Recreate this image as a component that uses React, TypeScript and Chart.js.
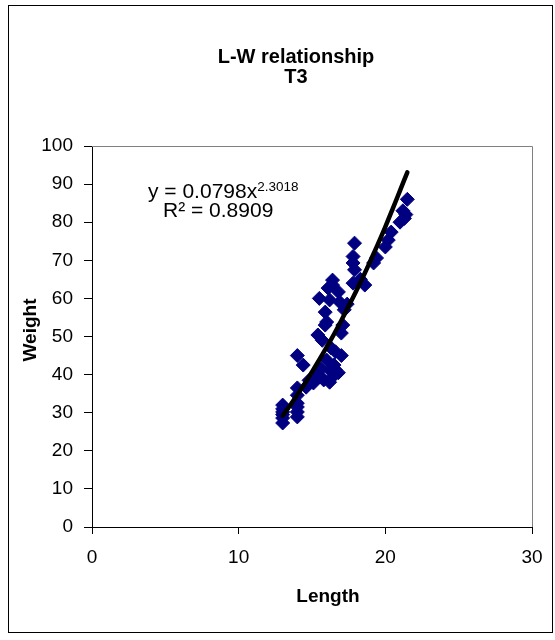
import React, { useEffect, useRef } from "react";
import { Chart, registerables } from "chart.js";

Chart.register(...registerables);

const titleLines = ["L-W relationship", "T3"];
const xAxisTitle = "Length";
const yAxisTitle = "Weight";
const equationMain = "y = 0.0798x";
const equationExp = "2.3018";
const rSquaredText = "R² = 0.8909";

const xTicks = [0, 10, 20, 30];
const yTicks = [0, 10, 20, 30, 40, 50, 60, 70, 80, 90, 100];

const lengths = [
  13, 13, 13, 13, 13, 13,
  14, 14, 14, 14, 14, 14, 14,
  14.4, 14.6, 15.1, 15.3, 15.8, 16.2, 16.2, 16.4, 16.6, 16, 17,
  16.6, 16.3, 15.7, 15.4, 17, 17.1, 15.9, 16, 15.9,
  15.5, 16.2, 16.9, 16.8, 16.1, 16.4, 16.4, 17.8, 17.2, 17.4,
  17.9, 17.8, 17.8, 17.9, 18.3, 18.6,
  19.2, 19.4, 20, 20.2, 20.4, 21, 21.3, 21.2, 21.5,
  14.8, 15.5, 16.5, 15.6, 16.8, 21.4,
];
const weights = [
  27.3, 28.6, 29.5, 30.2, 31, 32,
  28.9, 30.2, 31.5, 32.5, 34.6, 36.5, 45,
  42.5, 36.7, 37.8, 40.4, 38.6, 38, 41.2, 39.4, 41.2, 43.8, 45,
  46, 47, 49, 50.4, 50.9, 53, 53, 53.8, 56.4,
  60, 59.6, 59, 61.7, 62.7, 63.5, 64.8, 64, 57, 58.5,
  74.5, 71, 69.3, 67.5, 65, 63.5,
  69.3, 70.6, 73.5, 75.3, 77.4, 80, 81, 83, 86,
  38.5, 39.5, 42.5, 41.5, 40.5, 82,
];

// trendline values
const trendX = [13, 13.5, 14, 14.5, 15, 15.5, 16, 16.5, 17, 17.5, 18, 18.5, 19, 19.5, 20, 20.5, 21, 21.5];
const trendY = [29.2, 31.9, 34.7, 37.6, 40.7, 43.9, 47.2, 50.6, 54.2, 58.0, 61.8, 65.8, 70.0, 74.3, 78.8, 83.5, 88.3, 93.1];

const FONT = "'Liberation Sans', Arial, sans-serif";

const decorPlugin = {
  id: "decor",
  afterDraw(chart: any) {
    const ctx = chart.ctx as CanvasRenderingContext2D;
    const area = chart.chartArea;
    ctx.save();
    ctx.strokeStyle = "#808080";
    ctx.lineWidth = 1;
    ctx.beginPath();
    ctx.moveTo(area.left, area.top + 0.5);
    ctx.lineTo(area.right + 0.5, area.top + 0.5);
    ctx.lineTo(area.right + 0.5, area.bottom);
    ctx.stroke();

    ctx.fillStyle = "#000";
    ctx.font = `bold 20px ${FONT}`;
    ctx.textAlign = "center";
    ctx.textBaseline = "alphabetic";
    ctx.fillText(titleLines[0], 296, 63);
    ctx.fillText(titleLines[1], 296, 83);

    ctx.font = `bold 19px ${FONT}`;
    ctx.fillText(xAxisTitle, 328, 602);
    ctx.save();
    ctx.translate(36, 330);
    ctx.rotate(-Math.PI / 2);
    ctx.fillText(yAxisTitle, 0, 0);
    ctx.restore();

    ctx.textAlign = "left";
    ctx.font = `21px ${FONT}`;
    ctx.fillText(equationMain, 148, 198);
    const w = ctx.measureText(equationMain).width;
    ctx.font = `13.5px ${FONT}`;
    ctx.fillText(equationExp, 148 + w, 191);
    ctx.font = `21px ${FONT}`;
    ctx.fillText(rSquaredText, 163, 217);
    ctx.restore();
  },
};

export default function App() {
  const ref = useRef<HTMLCanvasElement | null>(null);

  useEffect(() => {
    if (!ref.current) return;
    const points = lengths.map((x, i) => ({ x, y: weights[i] }));
    const trend = trendX.map((x, i) => ({ x, y: trendY[i] }));
    const chart = new Chart(ref.current, {
      type: "scatter",
      data: {
        datasets: [
          {
            type: "line",
            data: trend,
            borderColor: "#000",
            borderWidth: 4.5,
            pointRadius: 0,
            tension: 0.4,
            fill: false,
            borderCapStyle: "round",
            order: 0,
          } as any,
          {
            data: points,
            pointStyle: "rectRot",
            pointRadius: 7,
            pointBackgroundColor: "#000080",
            pointBorderColor: "#000080",
            pointBorderWidth: 1,
            order: 1,
          },
        ],
      },
      options: {
        responsive: false,
        animation: false,
        devicePixelRatio: 1,
        layout: { padding: { left: 0, top: 146, right: 23, bottom: 73 } },
        plugins: { legend: { display: false }, tooltip: { enabled: false }, title: { display: false } },
        scales: {
          x: {
            type: "linear",
            min: 0,
            max: 30,
            afterBuildTicks: (s: any) => {
              s.ticks = xTicks.map((v) => ({ value: v }));
            },
            afterFit: (s: any) => {
              s.height = 40;
            },
            grid: { drawOnChartArea: false, drawTicks: true, tickLength: 7, color: "#000" },
            border: { color: "#000", width: 1 },
            ticks: { color: "#000", padding: 12, font: { family: FONT, size: 19 }, maxRotation: 0 },
          },
          y: {
            type: "linear",
            min: 0,
            max: 100,
            afterBuildTicks: (s: any) => {
              s.ticks = yTicks.map((v) => ({ value: v }));
            },
            afterFit: (s: any) => {
              s.width = 92;
            },
            grid: { drawOnChartArea: false, drawTicks: true, tickLength: 8, color: "#000" },
            border: { color: "#000", width: 1 },
            ticks: { color: "#000", padding: 11, font: { family: FONT, size: 19 } },
          },
        },
      },
      plugins: [decorPlugin],
    });
    return () => chart.destroy();
  }, []);

  return (
    <div style={{ position: "absolute", left: 0, top: 0, width: 555, height: 640, background: "#fff" }}>
      <div
        style={{
          position: "absolute",
          left: 8,
          top: 5,
          width: 545,
          height: 628,
          border: "1px solid #000",
          boxSizing: "border-box",
        }}
      />
      <canvas ref={ref} width={555} height={640} style={{ position: "absolute", left: 0, top: 0 }} />
    </div>
  );
}
